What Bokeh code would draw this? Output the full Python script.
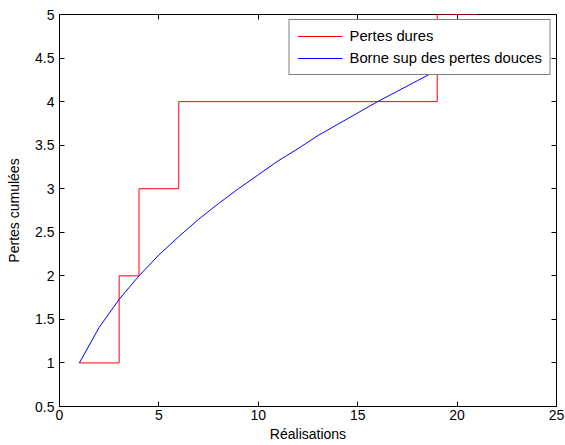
from bokeh.plotting import figure
from bokeh.models import Range1d, LinearAxis, FixedTicker, CustomJSTickFormatter, Legend, LegendItem
from bokeh.embed import file_html
from bokeh.resources import INLINE

# Data
realisations = [1, 2, 3, 4, 5, 6, 7, 8, 9, 10, 11, 12, 13, 14, 15, 16, 17, 18, 19, 20, 21]
pertes_dures = [1, 1, 2, 3, 3, 4, 4, 4, 4, 4, 4, 4, 4, 4, 4, 4, 4, 4, 5, 5, 5]
borne_sup = [1.0, 1.41, 1.73, 2.0, 2.24, 2.45, 2.65, 2.83, 3.0, 3.16, 3.32, 3.46,
             3.61, 3.74, 3.87, 4.0, 4.12, 4.24, 4.36, 4.47, 4.58]
x_ticks = [0, 5, 10, 15, 20, 25]
y_ticks = [0.5, 1, 1.5, 2, 2.5, 3, 3.5, 4, 4.5, 5]

FONT = "Liberation Sans"

p = figure(width=565, height=445, output_backend="svg", toolbar_location=None,
           x_range=Range1d(0, 25), y_range=Range1d(0.5, 5),
           min_border_left=59, min_border_right=9, min_border_top=14, min_border_bottom=39)
p.grid.visible = False
p.outline_line_color = "black"
p.background_fill_color = "white"
p.border_fill_color = "white"

r_red = p.step(realisations, pertes_dures, mode="after", line_color="#FF0000", line_width=1)
r_blue = p.line(realisations, borne_sup, line_color="#0000FF", line_width=1)

fmt = CustomJSTickFormatter(code="return String(tick);")

for ax in [p.xaxis[0], p.yaxis[0]]:
    ax.major_tick_in = 5
    ax.major_tick_out = 0
    ax.minor_tick_line_color = None
    ax.axis_line_color = "black"
    ax.major_tick_line_color = "black"
    ax.major_label_text_font = FONT
    ax.major_label_text_font_size = "14px"
    ax.major_label_text_color = "black"
    ax.axis_label_text_font = FONT
    ax.axis_label_text_font_size = "14px"
    ax.axis_label_text_font_style = "normal"
    ax.axis_label_text_color = "black"
    ax.formatter = fmt

p.xaxis[0].ticker = FixedTicker(ticks=x_ticks)
p.yaxis[0].ticker = FixedTicker(ticks=y_ticks)
p.xaxis[0].axis_label = "Réalisations"
p.yaxis[0].axis_label = "Pertes cumulées"
p.xaxis[0].major_label_standoff = 3
p.xaxis[0].axis_label_standoff = 3
p.yaxis[0].major_label_standoff = 5
p.yaxis[0].axis_label_standoff = 10

blank = CustomJSTickFormatter(code="return '';")
top = LinearAxis(ticker=FixedTicker(ticks=x_ticks), formatter=blank)
right = LinearAxis(ticker=FixedTicker(ticks=y_ticks), formatter=blank)
for ax in [top, right]:
    ax.major_tick_in = 5
    ax.major_tick_out = 0
    ax.minor_tick_line_color = None
    ax.axis_line_color = None
    ax.major_tick_line_color = "black"
    ax.major_label_text_font_size = "1px"
    ax.major_label_standoff = 0
p.add_layout(top, "above")
p.add_layout(right, "right")

legend = Legend(items=[LegendItem(label="Pertes dures", renderers=[r_red]),
                       LegendItem(label="Borne sup des pertes douces", renderers=[r_blue])],
                location="top_right")
legend.margin = 5
legend.padding = 8
legend.spacing = 6
legend.label_height = 14
legend.glyph_height = 14
legend.glyph_width = 45
legend.label_standoff = 7
legend.label_text_font = FONT
legend.label_text_font_size = "14.8px"
legend.label_text_color = "black"
legend.border_line_color = "black"
legend.border_line_width = 1
legend.background_fill_color = "white"
legend.background_fill_alpha = 1
p.add_layout(legend, "center")

open("out.html", "w").write(file_html(p, INLINE))
